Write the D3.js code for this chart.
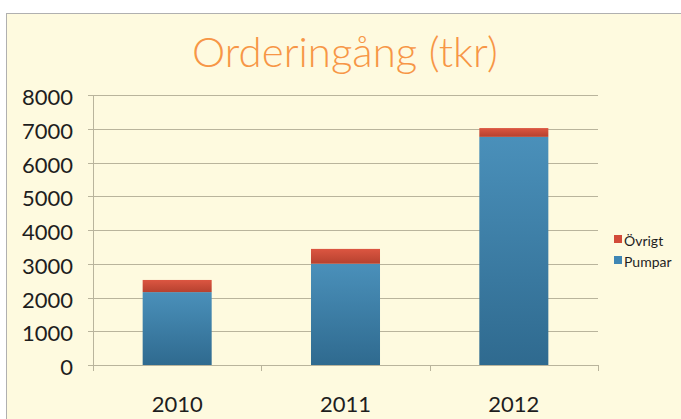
<!DOCTYPE html>
<html>
<head>
<meta charset="utf-8">
<script src="https://cdn.jsdelivr.net/npm/d3@7"></script>
<style>
  body { margin: 0; background: #fff; }
  svg text { font-family: Lato, "Open Sans", sans-serif; fill: #1e1e1e; }
</style>
</head>
<body>
<div id="chart-div"></div>
<script>
// data (tkr)
const years = ["2010", "2011", "2012"];
const pumpar = [2160, 3000, 6760];
const ovrigt = [360, 440, 260];
const yTicks = [0, 1000, 2000, 3000, 4000, 5000, 6000, 7000, 8000];

const width = 681;
const height = 419;
const plotLeft = 93, plotRight = 598, plotTop = 95, plotBottom = 365;

const svg = d3.select("#chart-div")
  .append("svg")
  .attr("width", width)
  .attr("height", height);

// gradients for the bars
const defs = svg.append("defs");
const gBlue = defs.append("linearGradient").attr("id", "gBlue").attr("x1", 0).attr("y1", 0).attr("x2", 0).attr("y2", 1);
gBlue.append("stop").attr("offset", "0%").attr("stop-color", "#4a90ba");
gBlue.append("stop").attr("offset", "100%").attr("stop-color", "#2f6a8f");
const gRed = defs.append("linearGradient").attr("id", "gRed").attr("x1", 0).attr("y1", 0).attr("x2", 0).attr("y2", 1);
gRed.append("stop").attr("offset", "0%").attr("stop-color", "#dc5641");
gRed.append("stop").attr("offset", "100%").attr("stop-color", "#b6412f");

// chart area background + border
svg.append("rect")
  .attr("x", 6.5).attr("y", 13.5)
  .attr("width", width).attr("height", height)
  .attr("fill", "#fefadf")
  .attr("stroke", "#b0b0b0");

// title
svg.append("text")
  .attr("x", 345).attr("y", 67)
  .attr("text-anchor", "middle")
  .style("font-size", "42px")
  .style("font-weight", 300)
  .style("fill", "#f79646")
  .text("Orderingång (tkr)");

const yScale = d3.scaleLinear().domain([0, 8000]).range([plotBottom, plotTop]);
const xScale = d3.scaleBand().domain(years).range([plotLeft, plotRight]).paddingInner(0.59).paddingOuter(0.295);

// gridlines
svg.append("g")
  .selectAll("line")
  .data(yTicks)
  .enter()
  .append("line")
  .attr("x1", plotLeft - 5).attr("x2", plotRight)
  .attr("y1", d => Math.round(yScale(d)) + 0.5)
  .attr("y2", d => Math.round(yScale(d)) + 0.5)
  .attr("stroke", "#b9b49c");

// y labels
svg.append("g")
  .selectAll("text")
  .data(yTicks)
  .enter()
  .append("text")
  .attr("x", 73)
  .attr("y", d => yScale(d) + 10)
  .attr("text-anchor", "end")
  .style("font-size", "22px")
  .text(d => d);

// y axis line
svg.append("line")
  .attr("x1", plotLeft + 0.5).attr("x2", plotLeft + 0.5)
  .attr("y1", plotTop).attr("y2", plotBottom + 6)
  .attr("stroke", "#b9b49c");

// x tick marks at category boundaries
const step = (plotRight - plotLeft) / years.length;
svg.append("g")
  .selectAll("line")
  .data(d3.range(years.length + 1))
  .enter()
  .append("line")
  .attr("x1", i => Math.round(plotLeft + i * step) + 0.5)
  .attr("x2", i => Math.round(plotLeft + i * step) + 0.5)
  .attr("y1", plotBottom).attr("y2", plotBottom + 6)
  .attr("stroke", "#b9b49c");

// stacked bars
const bars = svg.append("g");
bars.selectAll("rect.pumpar")
  .data(years)
  .enter()
  .append("rect")
  .attr("class", "pumpar")
  .attr("x", d => xScale(d))
  .attr("y", (d, i) => yScale(pumpar[i]))
  .attr("width", xScale.bandwidth())
  .attr("height", (d, i) => yScale(0) - yScale(pumpar[i]))
  .attr("fill", "url(#gBlue)");

bars.selectAll("rect.ovrigt")
  .data(years)
  .enter()
  .append("rect")
  .attr("class", "ovrigt")
  .attr("x", d => xScale(d))
  .attr("y", (d, i) => yScale(pumpar[i] + ovrigt[i]))
  .attr("width", xScale.bandwidth())
  .attr("height", (d, i) => yScale(pumpar[i]) - yScale(pumpar[i] + ovrigt[i]))
  .attr("fill", "url(#gRed)");

// x labels
svg.append("g")
  .selectAll("text")
  .data(years)
  .enter()
  .append("text")
  .attr("x", d => xScale(d) + xScale.bandwidth() / 2)
  .attr("y", 412)
  .attr("text-anchor", "middle")
  .style("font-size", "22px")
  .text(d => d);

// legend
const legend = [["Övrigt", "#d24b39"], ["Pumpar", "#3f86b4"]];
const lg = svg.append("g").attr("transform", "translate(614,235)");
lg.selectAll("rect")
  .data(legend)
  .enter()
  .append("rect")
  .attr("x", 0).attr("y", (d, i) => i * 21)
  .attr("width", 8).attr("height", 8)
  .attr("fill", d => d[1]);
lg.selectAll("text")
  .data(legend)
  .enter()
  .append("text")
  .attr("x", 10).attr("y", (d, i) => i * 21 + 11)
  .style("font-size", "14px")
  .text(d => d[0]);
</script>
</body>
</html>
